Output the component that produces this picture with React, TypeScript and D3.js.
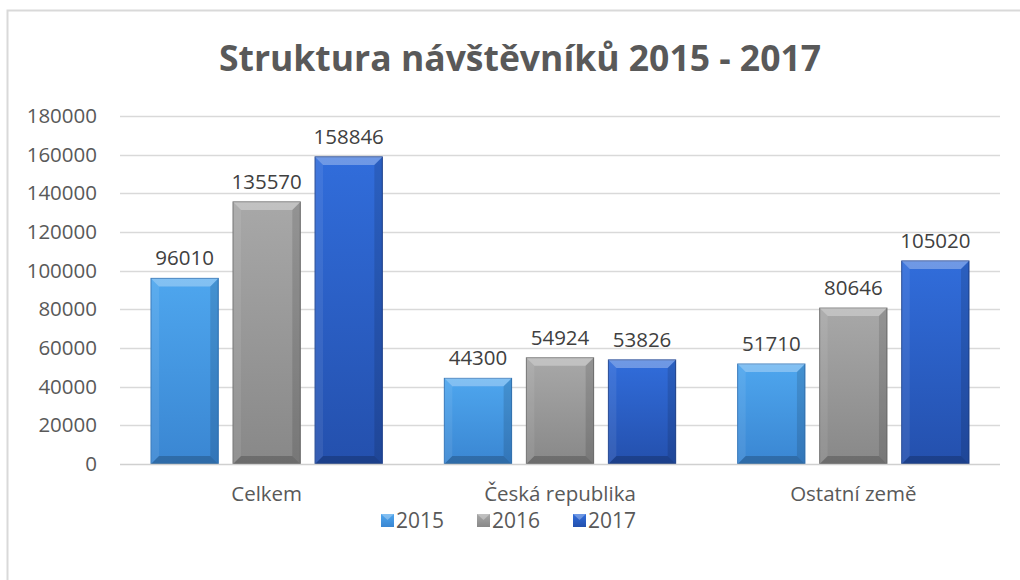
import React, { useEffect, useRef } from 'react';
import * as d3 from 'd3';

const categories = ['Celkem', 'Česká republika', 'Ostatní země'];
const years = ['2015', '2016', '2017'];
const values2015 = [96010, 44300, 51710];
const values2016 = [135570, 54924, 80646];
const values2017 = [158846, 53826, 105020];
const yTicks = [0, 20000, 40000, 60000, 80000, 100000, 120000, 140000, 160000, 180000];

const seriesValues = [values2015, values2016, values2017];
// top / bottom shades of each series
const colorsTop = ['#4ea6ee', '#a8a8a8', '#316ddb'];
const colorsBottom = ['#3a86d2', '#888888', '#2450ad'];
const edgeColors = ['#2f74b8', '#6e6e6e', '#1d4290'];

const FONT = '"Open Sans", sans-serif';

const App = () => {
  const svgRef = useRef<SVGSVGElement | null>(null);

  useEffect(() => {
    const svg = d3.select(svgRef.current);
    svg.selectAll('*').remove();

    const width = 1020;
    const height = 580;
    const left = 120;
    const right = 1000;
    const top = 116;
    const bottom = 464;

    const x0 = d3.scaleBand().domain(categories).range([left, right]).paddingInner(0).paddingOuter(0);
    const x1 = d3
      .scaleBand()
      .domain(years)
      .range([0, x0.bandwidth()])
      .paddingInner(0.18)
      .paddingOuter(0.378);
    const y = d3.scaleLinear().domain([0, 180000]).range([bottom, top]);

    const defs = svg.append('defs');
    years.forEach((yr, i) => {
      const g = defs
        .append('linearGradient')
        .attr('id', `grad${yr}`)
        .attr('x1', 0)
        .attr('y1', 0)
        .attr('x2', 0)
        .attr('y2', 1);
      g.append('stop').attr('offset', '0%').attr('stop-color', colorsTop[i]);
      g.append('stop').attr('offset', '100%').attr('stop-color', colorsBottom[i]);
    });

    // chart frame (runs off the right and bottom edge)
    svg
      .append('rect')
      .attr('x', 7.5)
      .attr('y', 10.5)
      .attr('width', width + 20)
      .attr('height', height + 20)
      .attr('fill', 'white')
      .attr('stroke', '#d9d9d9')
      .attr('stroke-width', 2);

    // title
    svg
      .append('text')
      .attr('x', 520)
      .attr('y', 71)
      .attr('text-anchor', 'middle')
      .attr('font-family', FONT)
      .attr('font-weight', 'bold')
      .attr('font-size', 35.5)
      .attr('fill', '#595959')
      .text('Struktura návštěvníků 2015 - 2017');

    // gridlines
    svg
      .append('g')
      .selectAll('line')
      .data(yTicks.slice(1))
      .enter()
      .append('line')
      .attr('x1', left)
      .attr('x2', right)
      .attr('y1', d => Math.round(y(d)) + 0.5)
      .attr('y2', d => Math.round(y(d)) + 0.5)
      .attr('stroke', '#d9d9d9')
      .attr('stroke-width', 1.5);

    // y tick labels
    svg
      .append('g')
      .selectAll('text')
      .data(yTicks)
      .enter()
      .append('text')
      .attr('x', 97)
      .attr('y', d => y(d) + 7)
      .attr('text-anchor', 'end')
      .attr('font-family', FONT)
      .attr('font-size', 20.5)
      .attr('fill', '#595959')
      .text(d => String(d));

    // bars
    const b = 8;
    categories.forEach((cat, ci) => {
      years.forEach((yr, si) => {
        const v = seriesValues[si][ci];
        const bx = (x0(cat) as number) + (x1(yr) as number);
        const bw = x1.bandwidth();
        const by = y(v);
        const bh = bottom - by;
        const g = svg.append('g');
        g.append('rect')
          .attr('x', bx)
          .attr('y', by)
          .attr('width', bw)
          .attr('height', bh)
          .attr('fill', `url(#grad${yr})`)
          .attr('stroke', edgeColors[si])
          .attr('stroke-width', 1);
        // bevel facets
        const pts = (p: number[][]) => p.map(q => q.join(',')).join(' ');
        g.append('polygon')
          .attr('points', pts([[bx, by], [bx + bw, by], [bx + bw - b, by + b], [bx + b, by + b]]))
          .attr('fill', 'white')
          .attr('opacity', 0.3);
        g.append('polygon')
          .attr('points', pts([[bx, by], [bx + b, by + b], [bx + b, bottom - b], [bx, bottom]]))
          .attr('fill', 'white')
          .attr('opacity', 0.08);
        g.append('polygon')
          .attr('points', pts([[bx + bw, by], [bx + bw, bottom], [bx + bw - b, bottom - b], [bx + bw - b, by + b]]))
          .attr('fill', 'black')
          .attr('opacity', 0.12);
        g.append('polygon')
          .attr('points', pts([[bx, bottom], [bx + b, bottom - b], [bx + bw - b, bottom - b], [bx + bw, bottom]]))
          .attr('fill', 'black')
          .attr('opacity', 0.2);

        svg
          .append('text')
          .attr('x', bx + bw / 2)
          .attr('y', by - 13)
          .attr('text-anchor', 'middle')
          .attr('font-family', FONT)
          .attr('font-size', 20.5)
          .attr('fill', '#404040')
          .text(String(v));
      });
    });

    // baseline
    svg
      .append('line')
      .attr('x1', left)
      .attr('x2', right)
      .attr('y1', bottom + 0.5)
      .attr('y2', bottom + 0.5)
      .attr('stroke', '#d0d0d0')
      .attr('stroke-width', 1.5);

    // category labels
    svg
      .append('g')
      .selectAll('text')
      .data(categories)
      .enter()
      .append('text')
      .attr('x', d => (x0(d) as number) + x0.bandwidth() / 2)
      .attr('y', 501)
      .attr('text-anchor', 'middle')
      .attr('font-family', FONT)
      .attr('font-size', 20.5)
      .attr('fill', '#595959')
      .text(d => d);

    // legend
    const legend = svg.append('g');
    years.forEach((yr, i) => {
      const lx = 381 + i * 96;
      const lg = legend.append('g');
      lg.append('rect')
        .attr('x', lx)
        .attr('y', 514)
        .attr('width', 13)
        .attr('height', 13)
        .attr('fill', `url(#grad${yr})`);
      lg.append('polygon')
        .attr('points', `${lx},514 ${lx + 13},514 ${lx + 6.5},520`)
        .attr('fill', 'white')
        .attr('opacity', 0.3);
      lg.append('text')
        .attr('x', lx + 15)
        .attr('y', 528)
        .attr('font-family', FONT)
        .attr('font-size', 21)
        .attr('fill', '#595959')
        .text(yr);
    });
  }, []);

  return (
    <div style={{ position: 'absolute', left: 0, top: 0, width: 1020, height: 580, overflow: 'hidden' }}>
      <svg ref={svgRef} width={1020} height={580}></svg>
    </div>
  );
};

export default App;
